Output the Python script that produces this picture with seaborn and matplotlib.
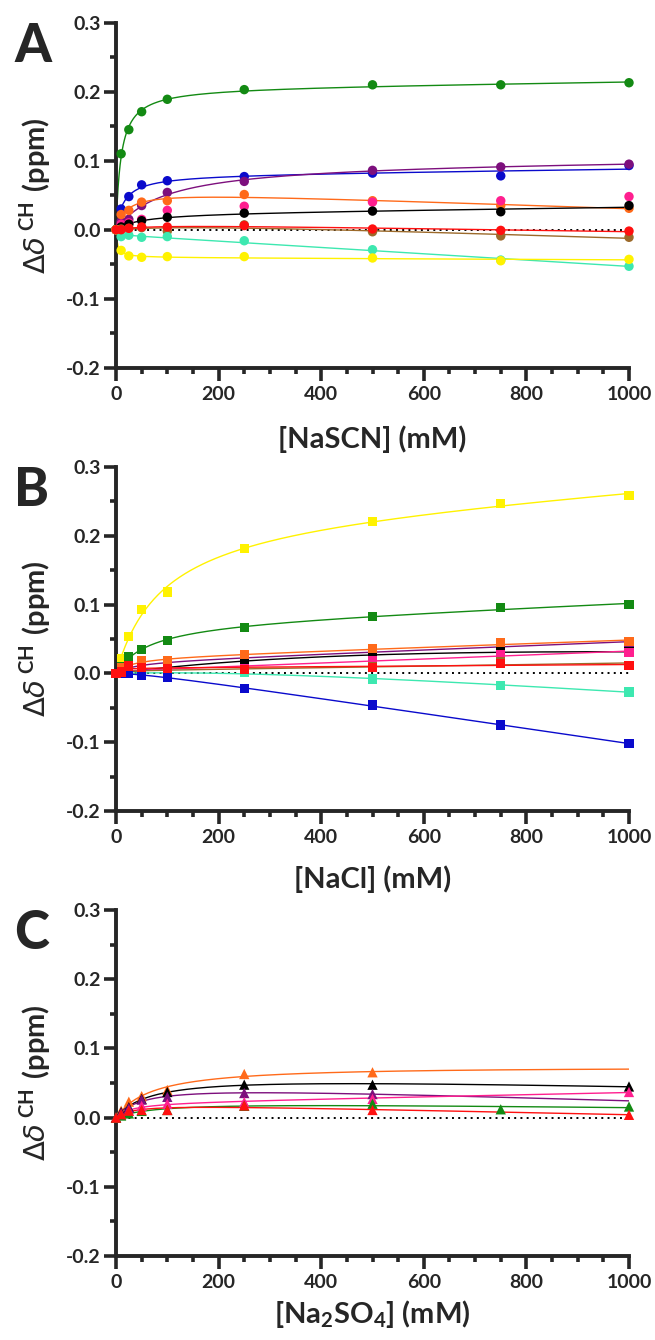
import numpy as np
import pandas as pd
import seaborn as sns
import matplotlib.pyplot as plt
from matplotlib.ticker import MultipleLocator, FormatStrFormatter

# salt concentrations (mM), shared by all panels
conc = [0, 10, 25, 50, 100, 250, 500, 750, 1000]

# A: NaSCN (circles)
scn_green  = [0, 0.110, 0.145, 0.171, 0.189, 0.203, 0.210, 0.210, 0.213]
scn_blue   = [0, 0.030, 0.048, 0.065, 0.071, 0.077, 0.082, 0.078, 0.093]
scn_purple = [0, 0.012, 0.015, 0.035, 0.054, 0.070, 0.086, 0.091, 0.095]
scn_orange = [0, 0.022, 0.028, 0.040, 0.042, 0.051, 0.042, 0.035, 0.031]
scn_pink   = [0, 0.008, 0.010, 0.015, 0.028, 0.034, 0.040, 0.042, 0.048]
scn_black  = [0, 0.004, 0.008, 0.013, 0.018, 0.024, 0.027, 0.026, 0.035]
scn_brown  = [0, 0.001, 0.002, 0.003, -0.002, 0.007, -0.003, -0.009, -0.011]
scn_aqua   = [0, -0.010, -0.008, -0.011, -0.010, -0.016, -0.029, -0.044, -0.053]
scn_yellow = [0, -0.030, -0.038, -0.040, -0.039, -0.039, -0.041, -0.045, -0.043]
scn_red    = [0, 0.000, 0.002, 0.004, 0.004, 0.006, 0.001, -0.001, -0.002]

# B: NaCl (squares)
cl_yellow = [0, 0.022, 0.053, 0.093, 0.118, 0.181, 0.221, 0.247, 0.258]
cl_green  = [0, 0.010, 0.024, 0.035, 0.048, 0.067, 0.0825, 0.0956, 0.0995]
cl_purple = [0, 0.004, 0.008, 0.012, 0.015, 0.022, 0.031, 0.040, 0.045]
cl_black  = [0, 0.002, 0.004, 0.005, 0.008, 0.018, 0.026, 0.0316, 0.031]
cl_pink   = [0, 0.002, 0.004, 0.006, 0.007, 0.007, 0.019, 0.028, 0.0306]
cl_brown  = [0, 0.002, 0.003, 0.004, 0.005, 0.004, 0.010, 0.017, 0.012]
cl_aqua   = [0, 0.000, 0.000, 0.000, 0.000, 0.001, -0.008, -0.017, -0.027]
cl_blue   = [0, 0.000, 0.000, -0.0025, -0.0064, -0.022, -0.046, -0.075, -0.102]
cl_orange = [0, 0.008, 0.010, 0.018, 0.018, 0.027, 0.036, 0.0447, 0.046]
cl_red    = [0, 0.002, 0.0106, 0.009, 0.007, 0.006, 0.009, 0.0146, 0.012]

# C: Na2SO4 (triangles), nan = not measured
so4_orange = [0, 0.010, 0.023, 0.031, 0.040, 0.063, 0.0655, np.nan, np.nan]
so4_black  = [0, 0.008, 0.015, 0.027, 0.037, 0.0476, 0.0475, np.nan, 0.045]
so4_purple = [0, 0.007, 0.014, 0.026, 0.030, 0.0355, 0.034, np.nan, np.nan]
so4_pink   = [0, 0.004, 0.010, 0.017, 0.020, 0.0224, 0.027, np.nan, 0.037]
so4_green  = [0, 0.003, 0.006, 0.0097, 0.011, 0.017, 0.020, 0.012, 0.016]
so4_red    = [0, 0.005, 0.010, 0.011, 0.011, 0.0175, 0.011, np.nan, 0.004]

colors = {
    "green": "#138a13", "blue": "#0a0acc", "purple": "#7d0f7d",
    "orange": "#ff6a1a", "pink": "#ff1f8f", "black": "#000000",
    "brown": "#9c6a2a", "aqua": "#3de8b0", "yellow": "#fff200",
    "red": "#ff1010",
}

panels = [
    dict(letter="A", marker="o", size=46, xlabel="[NaSCN] (mM)",
         series={"green": scn_green, "blue": scn_blue, "purple": scn_purple,
                 "orange": scn_orange, "pink": scn_pink, "black": scn_black,
                 "brown": scn_brown, "aqua": scn_aqua, "yellow": scn_yellow,
                 "red": scn_red},
         nofit=["pink"], top=22.7, bottom=367.7, xl_top=425),
    dict(letter="B", marker="s", size=44, xlabel="[NaCl] (mM)",
         series={"yellow": cl_yellow, "green": cl_green, "purple": cl_purple,
                 "black": cl_black, "pink": cl_pink, "brown": cl_brown,
                 "aqua": cl_aqua, "blue": cl_blue, "orange": cl_orange,
                 "red": cl_red},
         nofit=[], top=466.7, bottom=811.2, xl_top=865),
    dict(letter="C", marker="^", size=55,
         xlabel=r"[Na$_\mathbf{2}$SO$_\mathbf{4}$] (mM)",
         series={"orange": so4_orange, "black": so4_black, "purple": so4_purple,
                 "pink": so4_pink, "green": so4_green, "red": so4_red},
         nofit=[], top=910, bottom=1256, xl_top=1298),
]


def fit_curve(x, y):
    # one-site binding plus linear term, K by grid search
    ok = ~np.isnan(y)
    x, y = x[ok], y[ok]
    best = None
    for k in np.geomspace(2, 3000, 300):
        A = np.column_stack([x / (k + x), x])
        coef = np.linalg.lstsq(A, y, rcond=None)[0]
        sse = np.sum((A @ coef - y) ** 2)
        if best is None or sse < best[0]:
            best = (sse, k, coef)
    _, k, coef = best
    xs = np.linspace(0, 1000, 500)
    return xs, coef[0] * xs / (k + xs) + coef[1] * xs


sns.set_theme(style="ticks")
plt.rcParams["font.family"] = ["Lato", "DejaVu Sans"]
plt.rcParams["font.weight"] = "bold"
plt.rcParams["axes.unicode_minus"] = False
plt.rcParams["mathtext.fontset"] = "custom"
plt.rcParams["mathtext.rm"] = "DejaVu Sans:weight=normal"
plt.rcParams["mathtext.it"] = "DejaVu Sans:style=italic:weight=normal"
plt.rcParams["mathtext.bf"] = "Lato:weight=bold"

W, H = 655, 1340
fig = plt.figure(figsize=(W / 100, H / 100), dpi=100)
x0, x1 = 116, 629

for p in panels:
    ax = fig.add_axes([x0 / W, 1 - p["bottom"] / H, (x1 - x0) / W,
                       (p["bottom"] - p["top"]) / H])
    pts, fits = [], []
    for name, vals in p["series"].items():
        y = np.array(vals, dtype=float)
        pts.append(pd.DataFrame({"conc": conc, "shift": y, "series": name}))
        if name not in p["nofit"]:
            xs, ys = fit_curve(np.array(conc, dtype=float), y)
            fits.append(pd.DataFrame({"conc": xs, "shift": ys, "series": name}))
    pts = pd.concat(pts).dropna()
    fits = pd.concat(fits)

    ax.axhline(0, color="black", lw=1.4, ls=(0, (1, 2.2)), zorder=1)
    sns.lineplot(data=fits, x="conc", y="shift", hue="series", palette=colors,
                 legend=False, lw=1.0, ax=ax, zorder=2, sort=False)
    sns.scatterplot(data=pts, x="conc", y="shift", hue="series", palette=colors,
                    marker=p["marker"], s=p["size"], linewidth=0, legend=False,
                    ax=ax, zorder=4, clip_on=False)

    ax.set_xlim(0, 1000)
    ax.set_ylim(-0.2, 0.3)
    ax.xaxis.set_major_locator(MultipleLocator(200))
    ax.xaxis.set_minor_locator(MultipleLocator(50))
    ax.yaxis.set_major_locator(MultipleLocator(0.1))
    ax.yaxis.set_minor_locator(MultipleLocator(0.05))
    ax.yaxis.set_major_formatter(FormatStrFormatter("%.1f"))
    sns.despine(ax=ax)
    for s in ("left", "bottom"):
        ax.spines[s].set_linewidth(2.8)
    ax.tick_params(which="major", length=9, width=2.6, labelsize=14, pad=2)
    ax.tick_params(which="minor", length=4, width=2.6)
    ax.tick_params(axis="x", which="major", pad=4)
    for lab in ax.get_xticklabels() + ax.get_yticklabels():
        lab.set_fontweight("bold")

    ax.set_xlabel(p["xlabel"], fontsize=21, fontweight="bold", va="top")
    ax.xaxis.set_label_coords(0.5, (p["bottom"] - p["xl_top"]) / (p["bottom"] - p["top"]))
    ax.set_ylabel(r"$\Delta\delta^{\,\mathbf{CH}}\ \mathbf{(ppm)}$", fontsize=21,
                  fontweight="normal")
    ax.yaxis.set_label_coords((53 - x0) / (x1 - x0), 0.5)

    fig.text(14 / W, 1 - (p["top"] - 1) / H, p["letter"], fontsize=38,
             fontweight="black", ha="left", va="top")

fig.savefig("out.png", dpi=100)
